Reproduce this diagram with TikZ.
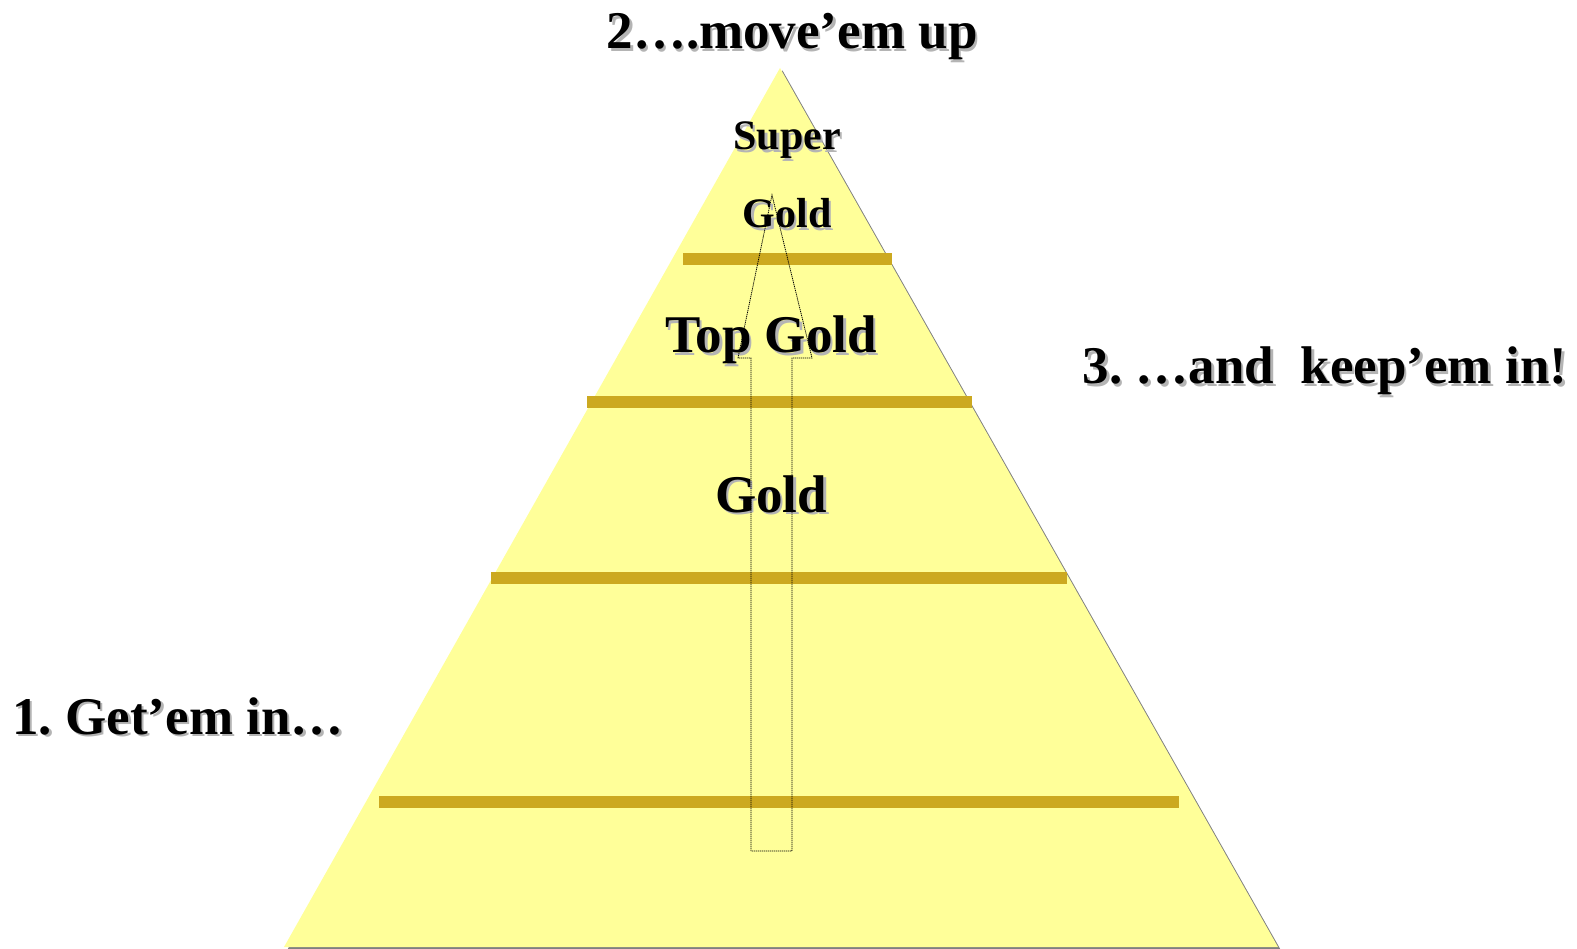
\documentclass[tikz,border=0pt]{standalone}
\usepackage{fontspec}
\setmainfont{Liberation Serif}
\frenchspacing
\definecolor{pyellow}{HTML}{FFFF99}
\definecolor{pbar}{HTML}{CCA920}
\definecolor{pshadow}{HTML}{808080}
\definecolor{tshadow}{HTML}{B4B4B4}
\tikzset{
  lbl/.style={inner sep=0pt, anchor=base, font=\bfseries\fontsize{#1}{#1}\selectfont},
  lblshadow/.style={lbl=#1, text=tshadow},
  goldbar/.style={fill=pbar, draw=none},
  uparrow/.style={draw=black, dash pattern=on 1.2pt off 0.8pt, line width=0.8pt}
}
\newcommand{\shlabel}[5]{%
  \node[lblshadow=#4] (#1s) at (#2+2.5,#3+2.5) {#5};
  \node[lbl=#4] (#1) at (#2,#3) {#5};}
\begin{document}
\begin{tikzpicture}[x=1pt,y=-1pt]
\useasboundingbox (0,0) rectangle (1577,949);
% triangle shadow and body
\fill[pshadow] (782.5,70.5) -- (1280.5,949.5) -- (287.5,949.5) -- cycle;
\fill[pyellow] (780,68) -- (1278,947) -- (284,947) -- cycle;
\coordinate (apex) at (780,68);
% bars
\fill[goldbar] (683,253) rectangle (892,265);
\fill[goldbar] (587,396) rectangle (972,408);
\fill[goldbar] (491,572) rectangle (1067,584);
\fill[goldbar] (379,796) rectangle (1179,808);
% labels
\shlabel{t2}{792}{49}{53}{2\ldots.move’em up}
\shlabel{sup}{787}{150}{42}{Super}
\shlabel{sg}{787}{228}{42}{Gold}
\shlabel{tg}{771}{353}{53}{Top Gold}
\shlabel{g}{771}{512}{53}{Gold}
\shlabel{t3}{1325}{384}{53}{3. \ldots and\ \ keep’em in!}
\shlabel{t1}{178}{734}{53}{1. Get’em in\ldots}
% arrow
\draw[uparrow] (751,851) -- (751,358) -- (738,358) -- (772,195) -- (812,358) -- (792,358) -- (792,851) -- cycle;
\end{tikzpicture}
\end{document}
